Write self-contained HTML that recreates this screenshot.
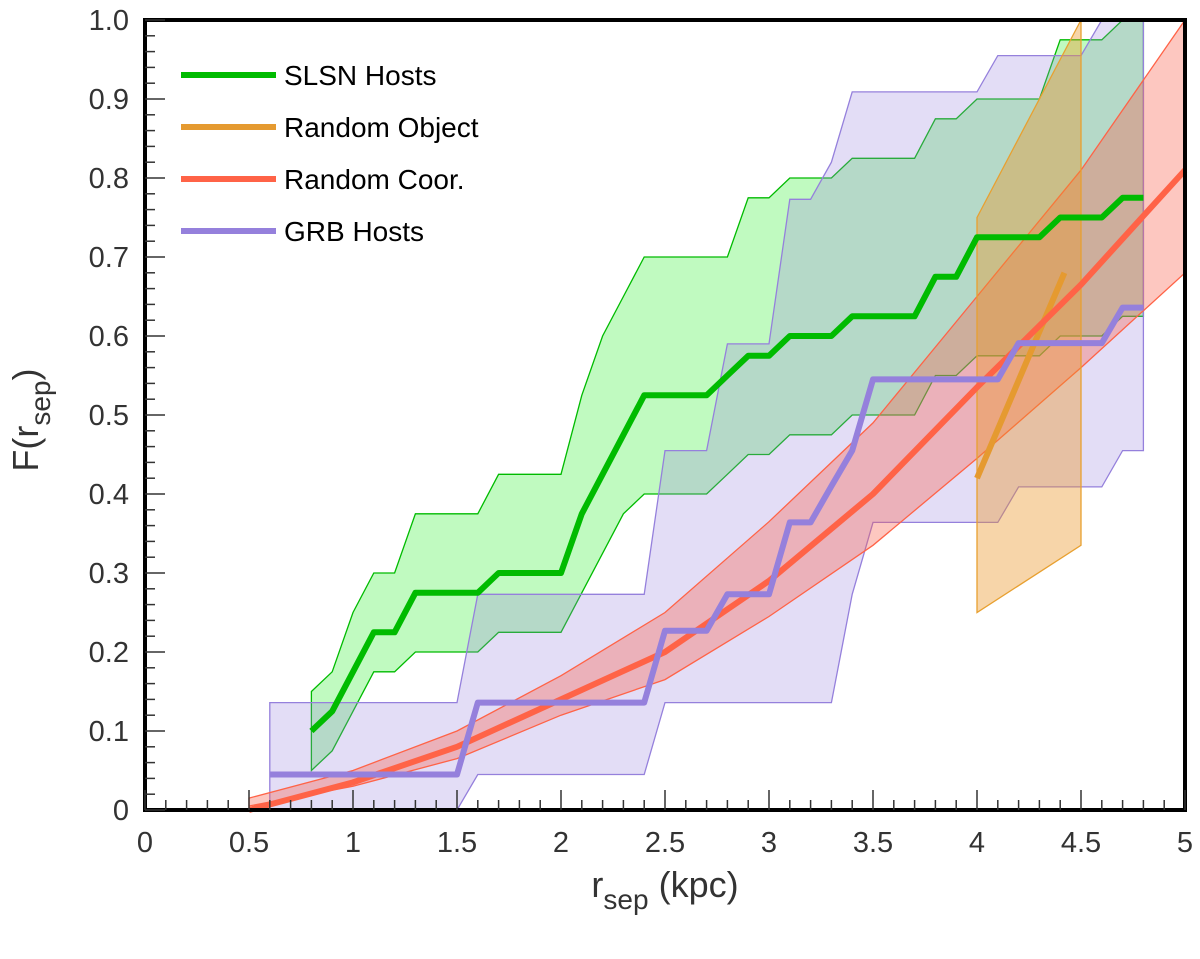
<!DOCTYPE html>
<html><head><meta charset="utf-8"><style>
body{margin:0;background:#fff;}
svg text{font-family:"Liberation Sans",sans-serif;}
</style></head><body>
<svg id="chart" width="1200" height="954" xmlns="http://www.w3.org/2000/svg">
<g id="plot"></g>
<g id="axes"></g>
<g id="legend"></g>
</svg>
<script>
const greenX=[0.8,0.9,1.0,1.1,1.2,1.3,1.4,1.5,1.6,1.7,1.8,1.9,2.0,2.1,2.2,2.3,2.4,2.5,2.6,2.7,2.8,2.9,3.0,3.1,3.2,3.3,3.4,3.5,3.6,3.7,3.8,3.9,4.0,4.1,4.2,4.3,4.4,4.5,4.6,4.7,4.8];
const greenMid=[0.10,0.125,0.175,0.225,0.225,0.275,0.275,0.275,0.275,0.30,0.30,0.30,0.30,0.375,0.425,0.475,0.525,0.525,0.525,0.525,0.55,0.575,0.575,0.60,0.60,0.60,0.625,0.625,0.625,0.625,0.675,0.675,0.725,0.725,0.725,0.725,0.75,0.75,0.75,0.775,0.775];
const greenHi=[0.15,0.175,0.25,0.30,0.30,0.375,0.375,0.375,0.375,0.425,0.425,0.425,0.425,0.525,0.60,0.65,0.70,0.70,0.70,0.70,0.70,0.775,0.775,0.80,0.80,0.80,0.825,0.825,0.825,0.825,0.875,0.875,0.90,0.90,0.90,0.90,0.975,0.975,0.975,1.0,1.0];
const greenLo=[0.05,0.075,0.125,0.175,0.175,0.20,0.20,0.20,0.20,0.225,0.225,0.225,0.225,0.275,0.325,0.375,0.40,0.40,0.40,0.40,0.425,0.45,0.45,0.475,0.475,0.475,0.50,0.50,0.50,0.50,0.55,0.55,0.575,0.575,0.575,0.575,0.60,0.60,0.60,0.625,0.625];
const grbX=[0.6,1.5,1.6,2.4,2.5,2.7,2.8,3.0,3.1,3.2,3.3,3.4,3.5,4.0,4.1,4.2,4.5,4.6,4.7,4.8];
const grbMid=[0.045,0.045,0.136,0.136,0.227,0.227,0.273,0.273,0.364,0.364,0.41,0.455,0.545,0.545,0.545,0.591,0.591,0.591,0.636,0.636];
const grbHi=[0.136,0.136,0.273,0.273,0.455,0.455,0.59,0.59,0.773,0.773,0.82,0.909,0.909,0.909,0.955,0.955,0.955,1.0,1.0,1.0];
const grbLo=[0,0,0.045,0.045,0.136,0.136,0.136,0.136,0.136,0.136,0.136,0.273,0.364,0.364,0.364,0.409,0.409,0.409,0.455,0.455];
const redX=[0.5,1.0,1.5,2.0,2.5,3.0,3.5,4.0,4.5,5.0];
const redMid=[0.0,0.035,0.08,0.14,0.20,0.29,0.40,0.535,0.665,0.81];
const redHi=[0.015,0.05,0.10,0.17,0.25,0.365,0.49,0.65,0.81,1.0];
const redLo=[0.005,0.03,0.065,0.12,0.165,0.245,0.335,0.445,0.56,0.68];
const objX=[4.0,4.5];
const objHi=[0.75,1.0];
const objLo=[0.25,0.335];
const objLineX=[4.0,4.42];
const objMid=[0.42,0.68];
const xTicks=["0","0.5","1","1.5","2","2.5","3","3.5","4","4.5","5"];
const yTicks=["0","0.1","0.2","0.3","0.4","0.5","0.6","0.7","0.8","0.9","1.0"];

const L=145,R=1185,T=20,B=810;
const sx=v=>L+(R-L)*v/5, sy=v=>B-(B-T)*v;
const NS="http://www.w3.org/2000/svg";
function mk(tag,attrs,parent){const e=document.createElementNS(NS,tag);for(const k in attrs)e.setAttribute(k,attrs[k]);parent.appendChild(e);return e;}
const plot=document.getElementById('plot'),axes=document.getElementById('axes'),leg=document.getElementById('legend');
function pts(xs,ys){return xs.map((x,i)=>sx(x).toFixed(1)+','+sy(ys[i]).toFixed(1));}
function band(xs,hi,lo,fill,stroke,name){
  const p=pts(xs,hi).concat(pts(xs,lo).reverse());
  const e=mk('polygon',{points:p.join(' '),fill:fill,stroke:stroke,'stroke-width':1.3},plot);
  
  
}
function line(xs,ys,color,name){
  const e=mk('polyline',{points:pts(xs,ys).join(' '),fill:'none',stroke:color,'stroke-width':6,'stroke-linejoin':'round'},plot);
  
  
}
band(greenX,greenHi,greenLo,'rgba(60,240,60,0.32)','#00bb00','slsn-band');
band(grbX,grbHi,grbLo,'rgba(150,130,220,0.27)','#9580dc','grb-band');
band(redX,redHi,redLo,'rgba(250,95,75,0.35)','#ff6347','random-coor-band');
band(objX,objHi,objLo,'rgba(235,150,40,0.4)','#e8a030','random-object-band');
line(greenX,greenMid,'#00bb00','slsn-line');
line(objLineX,objMid,'#e59a30','random-object-line');
line(redX,redMid,'#ff6347','random-coor-line');
line(grbX,grbMid,'#9580dc','grb-line');

const fr=mk('rect',{x:L,y:T,width:R-L,height:B-T,fill:'none',stroke:'#000','stroke-width':4},axes);


for(let i=0;i<=50;i++){
  const v=i/50, major=i%5===0, len=major?20:10;
  mk('line',{x1:L,x2:L+len,y1:sy(v),y2:sy(v),stroke:'#333','stroke-width':1.5},axes);
}
for(let i=0;i<=50;i++){
  const v=i*0.1, major=i%5===0, len=major?20:10;
  mk('line',{x1:sx(v),x2:sx(v),y1:B,y2:B-len,stroke:'#333','stroke-width':1.5},axes);
}
xTicks.forEach((t,i)=>{
  const e=mk('text',{x:sx(i*0.5),y:B+42,'text-anchor':'middle','font-size':29,fill:'#333'},axes);
  e.textContent=t;
  
  
});
yTicks.forEach((t,i)=>{
  const e=mk('text',{x:L-16,y:sy(i*0.1)+10,'text-anchor':'end','font-size':29,fill:'#333'},axes);
  e.textContent=t;
  
  
});
const xt=mk('text',{x:665,y:897,'text-anchor':'middle','font-size':36,fill:'#333'},axes);
xt.innerHTML='r<tspan dy="12" font-size="28">sep</tspan><tspan dy="-12"> (kpc)</tspan>';


const yt=mk('text',{x:0,y:0,'text-anchor':'middle','font-size':36,fill:'#333',transform:'translate(38,420) rotate(-90)'},axes);
yt.innerHTML='F(r<tspan dy="12" font-size="28">sep</tspan><tspan dy="-12">)</tspan>';


const legNames=['SLSN Hosts','Random Object','Random Coor.','GRB Hosts'];
const legColors=['#00bb00','#e59a30','#ff6347','#9580dc'];
legNames.forEach((n,i)=>{
  const y=75+i*52;
  const g=mk('g',{},leg);
  
  
  mk('line',{x1:181,x2:276,y1:y,y2:y,stroke:legColors[i],'stroke-width':6},g);
  const t=mk('text',{x:284,y:y+10,'font-size':28,fill:'#000'},g);
  t.textContent=n;
});
</script>
</body></html>
